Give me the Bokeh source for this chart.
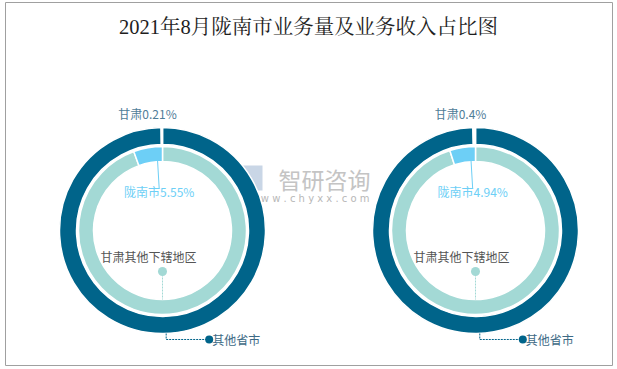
import math
from bokeh.plotting import figure
from bokeh.models import Range1d, ColumnDataSource
from bokeh.core.properties import value
from bokeh.embed import file_html
from bokeh.resources import INLINE

title = "2021年8月陇南市业务量及业务收入占比图"
outer_names = ["其他省市", "甘肃"]
inner_names = ["甘肃其他下辖地区", "陇南市"]
left_outer = [99.79, 0.21]
left_inner = [94.45, 5.55]
right_outer = [99.6, 0.4]
right_inner = [95.06, 4.94]
outer_label_fmt = ["其他省市", "甘肃{}%"]
inner_label_fmt = ["甘肃其他下辖地区", "陇南市{}%"]

W, H = 617, 369
DARK = "#00648a"
LIGHT = "#a3d9d5"
BLUE = "#6dcff6"
CJK = "Noto Sans CJK SC"

p = figure(width=W, height=H, output_backend="svg", toolbar_location=None,
           x_range=Range1d(5, 612), y_range=Range1d(4, 367),
           min_border_left=5, min_border_right=5, min_border_top=2, min_border_bottom=4)
p.axis.visible = False
p.grid.visible = False
p.outline_line_color = "#a0a0a0"
p.outline_line_width = 1
p.background_fill_color = "white"

def Y(py):
    return H - py

# title
p.text(x=[308], y=[Y(26)], text=[title], text_align="center", text_baseline="middle",
       text_font=value("Liberation Serif, Noto Serif CJK SC, Noto Sans CJK SC"),
       text_font_size="20.5px", text_color="#1e1e1e")

# watermark
p.text(x=[324], y=[Y(178)], text=["智研咨询"], text_align="center", text_baseline="middle",
       text_font=value(CJK), text_font_size="23px", text_color="#c4c4c4")
p.text(x=[309], y=[Y(198)], text=["w w w . c h y x x . c o m"], text_align="center",
       text_baseline="middle", text_font=value("DejaVu Sans"), text_font_size="10px",
       text_color="#b8b8b8")
p.quad(left=[241], right=[262], top=[Y(165)], bottom=[Y(190)], fill_color="#c9d6e6",
       line_color=None)

R_OUT = (86, 103)
R_IN = (69, 84)

def slices(vals):
    tot = sum(vals)
    c = 0
    out = []
    for v in vals:
        c0 = c / tot
        c += v
        c1 = c / tot
        out.append((90 - 360 * c1, 90 - 360 * c0, 90 - 180 * (c0 + c1)))
    return out

def donut(cx, cy_px, outer, inner):
    cy = Y(cy_px)
    so = slices(outer)
    si = slices(inner)
    src_o = ColumnDataSource(dict(s=[math.radians(a) for a, b, m in so],
                                  e=[math.radians(b) for a, b, m in so],
                                  c=[DARK, "white"]))
    p.annular_wedge(x=cx, y=cy, inner_radius=R_OUT[0], outer_radius=R_OUT[1],
                    start_angle="s", end_angle="e", fill_color="c", line_color="white",
                    line_width=1.5, source=src_o)
    src_i = ColumnDataSource(dict(s=[math.radians(a) for a, b, m in si],
                                  e=[math.radians(b) for a, b, m in si],
                                  c=[LIGHT, BLUE]))
    p.annular_wedge(x=cx, y=cy, inner_radius=R_IN[0], outer_radius=R_IN[1],
                    start_angle="s", end_angle="e", fill_color="c", line_color="white",
                    line_width=1.5, source=src_i)

    # 其他省市 label (outer big slice, bottom)
    m = math.radians(so[0][2])
    x0 = cx + R_OUT[1] * math.cos(m) + 3
    y0 = cy + R_OUT[1] * math.sin(m)
    y1 = y0 - 6
    x1 = x0 + 43
    p.line(x=[x0, x0, x1], y=[y0, y1, y1], line_color=DARK, line_width=1, line_dash="2 1")
    p.scatter(x=[x1], y=[y1], size=8, fill_color=DARK, line_color=None)
    p.text(x=[x1 + 3], y=[y1], text=[outer_label_fmt[0]], text_baseline="middle",
           text_font=value(CJK), text_font_size="12px", text_color="#3d6a85")

    # 甘肃 label (outer small slice, top)
    p.text(x=[cx - 15], y=[cy + R_OUT[1] + 14], text=[outer_label_fmt[1].format(outer[1])],
           text_align="center", text_baseline="middle", text_font=value(CJK),
           text_font_size="12px", text_color="#4f7d98")

    # 陇南市 label (inner small slice)
    m = math.radians(si[1][2])
    xs = cx + (R_IN[0] + 2) * math.cos(m) * 0.35
    ys = cy + R_IN[1] * math.sin(m) * 0.92
    ye = cy + 42
    p.line(x=[xs - 1, xs + 1], y=[ys, ye], line_color=BLUE, line_width=1)
    p.text(x=[xs + 1], y=[ye - 3], text=[inner_label_fmt[1].format(inner[1])],
           text_align="center", text_baseline="middle", text_font=value(CJK),
           text_font_size="12px", text_color=BLUE)

    # 甘肃其他下辖地区 label (inner big slice)
    yd = cy - 41
    p.line(x=[cx, cx], y=[yd, cy - R_IN[0]], line_color=LIGHT, line_width=1, line_dash="2 1")
    p.scatter(x=[cx], y=[yd], size=9, fill_color=LIGHT, line_color=None)
    p.text(x=[cx - 14], y=[yd + 15], text=[inner_label_fmt[0]], text_align="center",
           text_baseline="middle", text_font=value(CJK), text_font_size="12px",
           text_color="#555555")

donut(162, 230, left_outer, left_inner)
donut(475, 230, right_outer, right_inner)

open("out.html", "w").write(file_html(p, INLINE))
